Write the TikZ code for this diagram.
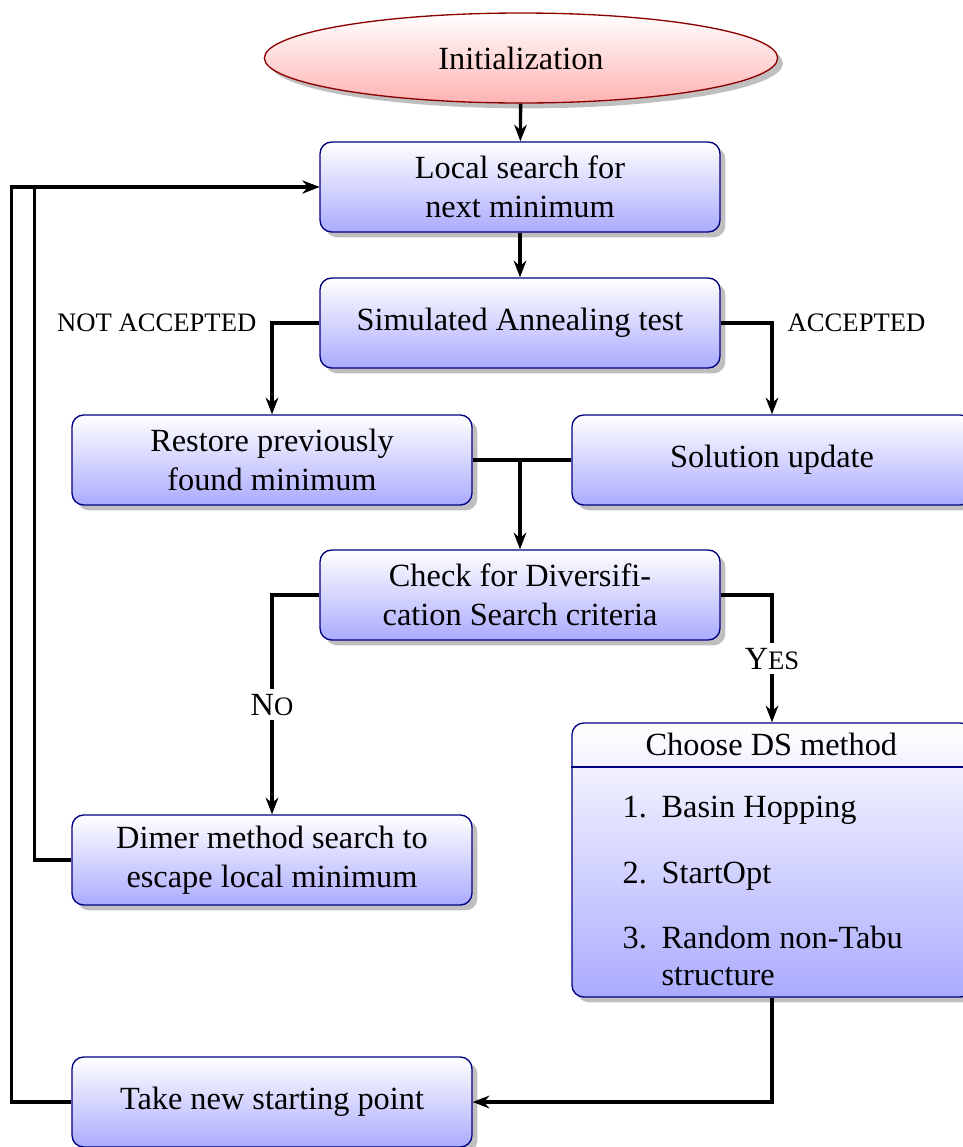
\documentclass[tikz,border=0pt]{standalone}
\usepackage{fontspec}
\setmainfont{Liberation Serif}
\usetikzlibrary{shapes.geometric,shadows,arrows.meta}

\newcommand{\fsc}[1]{{\fontsize{8}{9.6}\selectfont #1}}

\begin{document}
\begin{tikzpicture}[x=0.3pt,y=-0.3pt,
  font=\fontsize{9.7}{11.6}\selectfont,
  boxshadow/.style={drop shadow={shadow xshift=1.6pt, shadow yshift=-1.6pt, fill=black!25, opacity=1}},
  stepbox/.style={rectangle, rounded corners=3.5pt, draw=blue!50!black, line width=0.4pt,
    top color=white, bottom color=blue!33, minimum width=120pt, minimum height=27pt,
    align=center, inner sep=2pt, boxshadow},
  startbox/.style={ellipse, draw=red!55!black, line width=0.4pt,
    top color=white, bottom color=red!30, minimum width=154pt, minimum height=27pt,
    inner sep=0pt, boxshadow},
  conn/.style={line width=1pt, -{Stealth[length=5pt, width=3.8pt]}},
  plain/.style={line width=1pt},
  lbl/.style={inner sep=1.5pt},
  item/.style={anchor=base west, inner sep=0pt}]

\useasboundingbox (0,0) rectangle (963,1147);

% main flow boxes
\node[startbox] (init) at (521,58) {Initialization};
\node[stepbox] (ls) at (520,187) {Local search for\\next minimum};
\node[stepbox] (sa) at (520,323) {Simulated Annealing test};
\node[stepbox] (rest) at (272,460) {Restore previously\\found minimum};
\node[stepbox] (sol) at (772,460) {Solution update};
\node[stepbox] (chk) at (520,595) {Check for Diversifi-\\cation Search criteria};
\node[stepbox] (dimer) at (272,860) {Dimer method search to\\escape local minimum};
\node[stepbox] (take) at (272,1102) {Take new starting point};

% diversification method box with header and list
\node[stepbox, minimum height=82.2pt] (ds) at (772,860) {};
\draw[blue!50!black, line width=0.4pt] (ds.west |- 0,767) -- (ds.east |- 0,767);
\node[item] (dsh) at (645,755) {Choose DS method};
\node[item] (n1) at (622,817) {1.};
\node[item] (t1) at (661,817) {Basin Hopping};
\node[item] (n2) at (622,883) {2.};
\node[item] (t2) at (661,883) {StartOpt};
\node[item] (n3) at (622,948) {3.};
\node[item] (t3) at (661,948) {Random non-Tabu};
\node[item] (t3b) at (661,985) {structure};

% connectors
\draw[conn] (init) -- (ls);
\draw[conn] (ls) -- (sa);
\draw[conn] (sa.west) -| (rest.north);
\draw[conn] (sa.east) -| (sol.north);
\node[lbl, anchor=east] (nacc) at (262,323) {\fsc{NOT ACCEPTED}};
\node[lbl, anchor=west] (acc) at (782,323) {\fsc{ACCEPTED}};

\draw[plain] (rest.east) -- (sol.west);
\coordinate (merge) at (rest.east -| chk.north);
\draw[conn] (merge) -- (chk.north);

\draw[conn] (chk.west) -| node[pos=0.75, fill=white, lbl] (no) {N\fsc{O}} (dimer.north);
\draw[conn] (chk.east) -| node[pos=0.75, fill=white, lbl] (yes) {Y\fsc{ES}} (ds.north);

\draw[conn] (dimer.west) -- ++(-37,0) |- (ls.west);
\draw[conn] (take.west) -- ++(-60,0) |- (ls.west);
\draw[conn] (ds.south) |- (take.east);

\end{tikzpicture}
\end{document}
